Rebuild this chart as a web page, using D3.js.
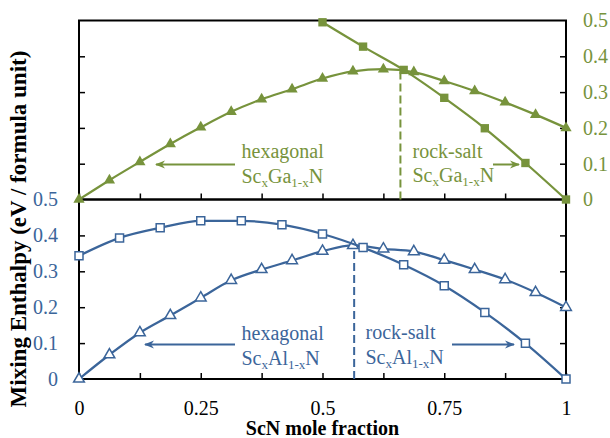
<!DOCTYPE html>
<html>
<head>
<meta charset="utf-8">
<script src="https://cdn.jsdelivr.net/npm/d3@7"></script>
<style>
  body { margin: 0; background: #fff; }
  text { font-family: "Liberation Serif", "Times New Roman", serif; }
</style>
</head>
<body>
<div id="chart"></div>
<script>
// ScN mole fraction for each series
const xHex = [0, 0.0625, 0.125, 0.1875, 0.25, 0.3125, 0.375, 0.4375, 0.5, 0.5625, 0.625, 0.6875, 0.75, 0.8125, 0.875, 0.9375, 1];
const xGaRs = [0.5, 0.5833, 0.6667, 0.75, 0.8333, 0.9167, 1];
const xAlRs = [0, 0.0833, 0.1667, 0.25, 0.3333, 0.4167, 0.5, 0.5833, 0.6667, 0.75, 0.8333, 0.9167, 1];

// mixing enthalpy (eV / formula unit)
const gaHex = [0, 0.054, 0.105, 0.155, 0.2015, 0.245, 0.280, 0.308, 0.338, 0.358, 0.364, 0.356, 0.331, 0.303, 0.2715, 0.237, 0.200];
const gaRs = [0.495, 0.427, 0.362, 0.284, 0.199, 0.102, 0];
const alHex = [0, 0.0676, 0.129, 0.177, 0.226, 0.275, 0.305, 0.330, 0.356, 0.372, 0.3625, 0.355, 0.331, 0.305, 0.277, 0.241, 0.1995];
const alRs = [0.343, 0.393, 0.421, 0.4405, 0.4405, 0.430, 0.404, 0.366, 0.318, 0.2597, 0.1855, 0.0994, 0];

// transition points (dashed lines)
const gaCross = {x: 0.660, y: 0.362};
const alCross = {x: 0.565, y: 0.372};

const xTicks = [0, 0.125, 0.25, 0.375, 0.5, 0.625, 0.75, 0.875, 1];
const xLabels = [0, 0.25, 0.5, 0.75, 1];
const yTicks = [0, 0.1, 0.2, 0.3, 0.4, 0.5];

const green = "#77933c", blue = "#3b659a";

const width = 610, height = 438;
const svg = d3.select("#chart").append("svg")
    .attr("width", width)
    .attr("height", height);

const x = d3.scaleLinear().domain([0, 1]).range([79, 566]);
const yTop = d3.scaleLinear().domain([0, 0.5]).range([199.5, 20.5]);
const yBot = d3.scaleLinear().domain([0, 0.5]).range([379, 199.5]);

// arrowhead
svg.append("defs").selectAll("marker")
    .data([["arrG", green], ["arrB", blue]])
    .enter().append("marker")
    .attr("id", d => d[0])
    .attr("viewBox", "0 0 10 10")
    .attr("refX", 9).attr("refY", 5)
    .attr("markerWidth", 5).attr("markerHeight", 5)
    .attr("orient", "auto")
    .append("path")
    .attr("d", "M0,1 L10,5 L0,9 L3,5 Z")
    .attr("fill", d => d[1]);

function fmt(d) { return d === 0 ? "0" : d3.format(".1f")(d); }
function fmtX(d) { return xLabels.includes(d) ? String(d) : ""; }

function clean(g) {
    g.select(".domain").remove();
    g.selectAll(".tick line").attr("stroke", "#000").attr("stroke-width", 1.5);
    g.selectAll("text").style("font-family", "Liberation Serif").style("font-size", "20px");
}

// ---- top panel axes (ScGaN)
svg.append("g")
    .attr("transform", `translate(0,${yTop(0)})`)
    .call(d3.axisBottom(x).tickValues(xTicks).tickSize(-6).tickFormat(""))
    .call(clean);
svg.append("g")
    .attr("transform", `translate(${x(0)},0)`)
    .call(d3.axisLeft(yTop).tickValues([0.1, 0.2, 0.3, 0.4]).tickSize(-6).tickFormat(""))
    .call(clean);
svg.append("g")
    .attr("transform", `translate(${x(1)},0)`)
    .call(d3.axisRight(yTop).tickValues(yTicks).tickSize(-6).tickPadding(17).tickFormat(fmt))
    .call(clean)
    .call(g => g.selectAll("text").attr("fill", green))
    .call(g => g.selectAll(".tick").filter(d => d === 0 || d === 0.5).select("line").remove());

// ---- bottom panel axes (ScAlN)
svg.append("g")
    .attr("transform", `translate(0,${yBot(0)})`)
    .call(d3.axisBottom(x).tickValues(xTicks).tickSize(-6).tickPadding(22).tickFormat(fmtX))
    .call(clean)
    .call(g => g.selectAll("text").attr("fill", "#000"));
svg.append("g")
    .attr("transform", `translate(${x(0)},0)`)
    .call(d3.axisLeft(yBot).tickValues(yTicks).tickSize(-6).tickPadding(21).tickFormat(fmt))
    .call(clean)
    .call(g => g.selectAll("text").attr("fill", blue))
    .call(g => g.selectAll(".tick").filter(d => d === 0 || d === 0.5).select("line").remove());
svg.append("g")
    .attr("transform", `translate(${x(1)},0)`)
    .call(d3.axisRight(yBot).tickValues([0.1, 0.2, 0.3, 0.4]).tickSize(-6).tickFormat(""))
    .call(clean);

// frames
[[yTop(0.5), yTop(0)], [yBot(0.5), yBot(0)]].forEach(r => {
    svg.append("rect")
        .attr("x", x(0)).attr("y", r[0])
        .attr("width", x(1) - x(0)).attr("height", r[1] - r[0])
        .attr("fill", "none").attr("stroke", "#000").attr("stroke-width", 2);
});

// dashed transition lines
svg.append("line")
    .attr("x1", x(gaCross.x)).attr("x2", x(gaCross.x))
    .attr("y1", yTop(0)).attr("y2", yTop(gaCross.y))
    .attr("stroke", green).attr("stroke-width", 2).attr("stroke-dasharray", "8,4");
svg.append("line")
    .attr("x1", x(alCross.x)).attr("x2", x(alCross.x))
    .attr("y1", yBot(0)).attr("y2", yBot(alCross.y))
    .attr("stroke", blue).attr("stroke-width", 2).attr("stroke-dasharray", "8,4");

// series
const series = [
    {xs: xHex, ys: gaHex, y: yTop, color: green, shape: d3.symbolTriangle, filled: true, size: 55},
    {xs: xGaRs, ys: gaRs, y: yTop, color: green, shape: d3.symbolSquare, filled: true, size: 70},
    {xs: xHex, ys: alHex, y: yBot, color: blue, shape: d3.symbolTriangle, filled: false, size: 50},
    {xs: xAlRs, ys: alRs, y: yBot, color: blue, shape: d3.symbolSquare, filled: false, size: 64}
];

series.forEach(s => {
    const pts = s.xs.map((v, i) => [v, s.ys[i]]);
    const line = d3.line().x(d => x(d[0])).y(d => s.y(d[1])).curve(d3.curveMonotoneX);
    svg.append("path")
        .datum(pts)
        .attr("d", line)
        .attr("fill", "none")
        .attr("stroke", s.color)
        .attr("stroke-width", 2.25);
    svg.append("g").selectAll("path")
        .data(pts)
        .enter().append("path")
        .attr("transform", d => `translate(${x(d[0])},${s.y(d[1])})`)
        .attr("d", d3.symbol().type(s.shape).size(s.size))
        .attr("fill", s.filled ? s.color : "#fff")
        .attr("stroke", s.color)
        .attr("stroke-width", s.filled ? 0 : 1.5);
});

// annotations
function label(px, py, color, phase, metal, arrow) {
    svg.append("text")
        .attr("x", px).attr("y", py)
        .attr("fill", color).style("font-size", "20px")
        .text(phase);
    const t = svg.append("text")
        .attr("x", px).attr("y", py + 24.5)
        .attr("fill", color).style("font-size", "20px");
    t.append("tspan").text("Sc");
    t.append("tspan").text("x").style("font-size", "13px").attr("dy", 4);
    t.append("tspan").text(metal).attr("dy", -4);
    t.append("tspan").text("1-x").style("font-size", "13px").attr("dy", 4);
    t.append("tspan").text("N").attr("dy", -4);
    svg.append("line")
        .attr("x1", arrow[0]).attr("x2", arrow[1])
        .attr("y1", arrow[2]).attr("y2", arrow[2])
        .attr("stroke", color).attr("stroke-width", 2)
        .attr("marker-end", `url(#${color === green ? "arrG" : "arrB"})`);
}

label(241.5, 158, green, "hexagonal", "Ga", [235, 156, 164.5]);
label(412.5, 157.5, green, "rock-salt", "Ga", [493, 519, 164.5]);
label(241.5, 340, blue, "hexagonal", "Al", [235, 145, 344.5]);
label(365.5, 339, blue, "rock-salt", "Al", [452, 514, 344.5]);

// axis titles
svg.append("text")
    .attr("x", (x(0) + x(1)) / 2).attr("y", 435)
    .attr("text-anchor", "middle")
    .style("font-size", "20px").style("font-weight", "bold")
    .text("ScN mole fraction");

svg.append("text")
    .attr("transform", "translate(26,229) rotate(-90)")
    .attr("text-anchor", "middle")
    .style("font-size", "23px").style("font-weight", "bold")
    .text("Mixing Enthalpy (eV / formula unit)");
</script>
</body>
</html>
